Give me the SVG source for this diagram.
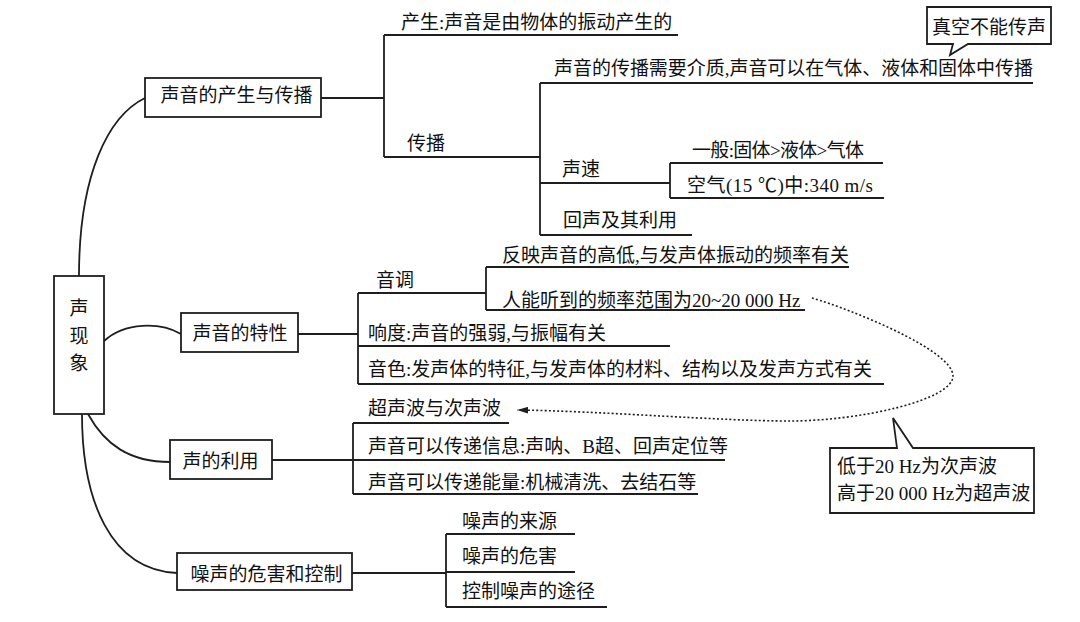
<svg xmlns="http://www.w3.org/2000/svg" width="1080" height="622" viewBox="0 0 1080 622">
<style>
text{font-family:"Liberation Serif","Noto Sans CJK SC",serif;font-size:19px;fill:#111}
.box{fill:#fff;stroke:#1e1e1e;stroke-width:1.8}
.ln{fill:none;stroke:#1e1e1e;stroke-width:1.8}
.dot{fill:none;stroke:#1e1e1e;stroke-width:1.6;stroke-dasharray:2 2.2}
.c{text-anchor:middle}
</style>
<defs>
<marker id="ah" viewBox="0 0 10 6" refX="10" refY="3" markerWidth="11" markerHeight="7" markerUnits="userSpaceOnUse" orient="auto">
<path d="M0,0 L10,3 L0,6 z" fill="#1e1e1e"/>
</marker>
</defs>
<rect width="1080" height="622" fill="#fff"/>

<g id="connectors">
<path class="ln" d="M79,276 C79,175 108,116 145,98"/>
<path class="ln" d="M104,341 C125,322 160,322 181,334"/>
<path class="ln" d="M88,414 C105,445 130,462 170,462"/>
<path class="ln" d="M82,414 C82,500 110,570 177,573"/>
<path class="ln" d="M321,98 H384 M384,35 V157"/>
<path class="ln" d="M540,83 V235 M540,183 H670 M670,163 V198"/>
<path class="ln" d="M298,334 H358 M358,293 V384 M486,267 V310"/>
<path class="ln" d="M272,460 H353 M353,423 V494"/>
<path class="ln" d="M352,573 H446 M446,534 V607"/>
<path class="dot" d="M812,298 C850,309 953,350 953,376 C953,400 860,421 790,421 C720,421 600,411 517,410" marker-end="url(#ah)"/>
</g>

<g id="root">
<rect class="box" x="54" y="276" width="50" height="138"/>
<text class="c" x="79" y="315">声</text>
<text class="c" x="79" y="343">现</text>
<text class="c" x="79" y="370">象</text>
</g>

<g id="n-chansheng-chuanbo">
<rect class="box" x="145" y="78" width="176" height="39"/>
<text class="c" x="236.5" y="102">声音的产生与传播</text>
</g>
<g id="n-chansheng">
<path class="ln" d="M384,35 H678"/>
<text x="401" y="28.5">产生:声音是由物体的振动产生的</text>
</g>
<g id="n-chuanbo">
<path class="ln" d="M384,157 H540"/>
<text x="407" y="150">传播</text>
</g>
<g id="n-jiezhi">
<path class="ln" d="M540,83 H1033"/>
<text x="554" y="75" textLength="479" lengthAdjust="spacing">声音的传播需要介质,声音可以在气体、液体和固体中传播</text>
</g>
<g id="n-zhenkong">
<path class="box" d="M927,7 H1051 V44 H968 L950,55 L953,44 H927 Z"/>
<text x="932" y="33.5">真空不能传声</text>
</g>
<g id="n-shengsu">
<text x="562" y="176">声速</text>
</g>
<g id="n-yiban">
<path class="ln" d="M670,163 H883"/>
<text x="692" y="157" textLength="172" lengthAdjust="spacing">一般:固体&gt;液体&gt;气体</text>
</g>
<g id="n-kongqi">
<path class="ln" d="M670,198 H884"/>
<text x="687" y="192" textLength="186" lengthAdjust="spacing">空气(15 ℃)中:340 m/s</text>
</g>
<g id="n-huisheng">
<path class="ln" d="M540,235 H692"/>
<text x="563" y="227">回声及其利用</text>
</g>

<g id="n-texing">
<rect class="box" x="181" y="313" width="117" height="39"/>
<text class="c" x="240" y="340">声音的特性</text>
</g>
<g id="n-yindiao">
<path class="ln" d="M358,293 H486"/>
<text x="376" y="287">音调</text>
</g>
<g id="n-fanying">
<path class="ln" d="M486,267 H849"/>
<text x="502" y="262" textLength="347" lengthAdjust="spacing">反映声音的高低,与发声体振动的频率有关</text>
</g>
<g id="n-pinlv">
<path class="ln" d="M486,310 H805"/>
<text x="502" y="306.5">人能听到的频率范围为20~20 000 Hz</text>
</g>
<g id="n-xiangdu">
<path class="ln" d="M358,346 H670"/>
<text x="368" y="339.5">响度:声音的强弱,与振幅有关</text>
</g>
<g id="n-yinse">
<path class="ln" d="M358,384 H884"/>
<text x="368" y="376">音色:发声体的特征,与发声体的材料、结构以及发声方式有关</text>
</g>

<g id="n-liyong">
<rect class="box" x="170" y="440" width="102" height="39"/>
<text class="c" x="220.5" y="468">声的利用</text>
</g>
<g id="n-chaosheng">
<path class="ln" d="M353,423 H509"/>
<text x="368" y="415">超声波与次声波</text>
</g>
<g id="n-xinxi">
<path class="ln" d="M353,460 H725"/>
<text x="368" y="452.5">声音可以传递信息:声呐、B超、回声定位等</text>
</g>
<g id="n-nengliang">
<path class="ln" d="M353,494 H698"/>
<text x="368" y="489">声音可以传递能量:机械清洗、去结石等</text>
</g>
<g id="n-callout-bo">
<path class="box" d="M830,448 H897 L893,418 L913,448 H1034 V513 H830 Z"/>
<text x="837" y="472.5">低于20 Hz为次声波</text>
<text x="837" y="499.5">高于20 000 Hz为超声波</text>
</g>

<g id="n-zaosheng">
<rect class="box" x="177" y="553" width="175" height="37"/>
<text class="c" x="266.5" y="581">噪声的危害和控制</text>
</g>
<g id="n-laiyuan">
<path class="ln" d="M446,534 H575"/>
<text x="462" y="527.5">噪声的来源</text>
</g>
<g id="n-weihai">
<path class="ln" d="M446,572 H575"/>
<text x="462" y="562.5">噪声的危害</text>
</g>
<g id="n-tujing">
<path class="ln" d="M446,607 H607"/>
<text x="462" y="597.5">控制噪声的途径</text>
</g>
</svg>
